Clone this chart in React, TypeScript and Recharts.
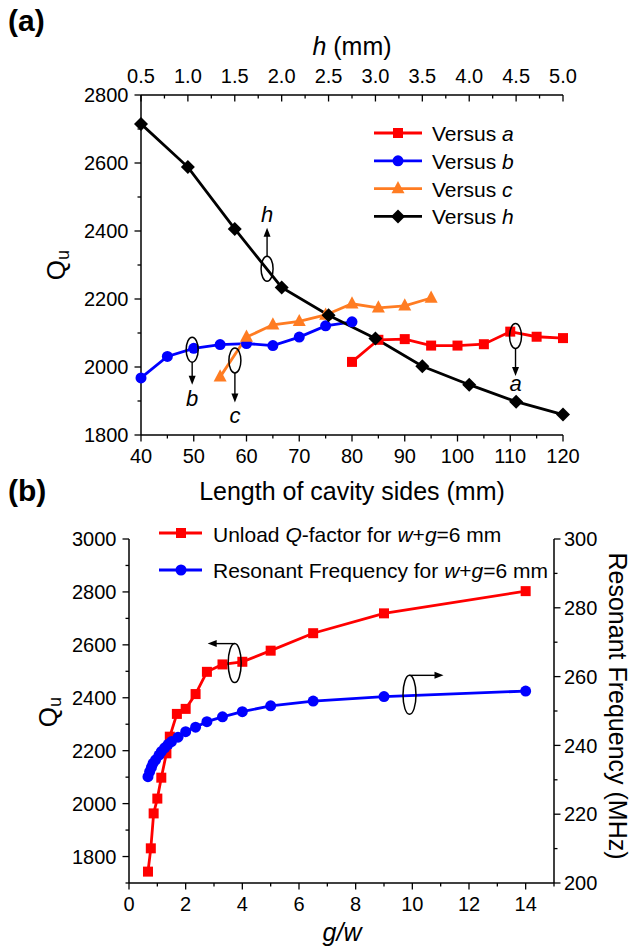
import React from "react";
import { LineChart, Line, XAxis, YAxis, ReferenceDot } from "recharts";

const FONT = "'Liberation Sans', Arial, Helvetica, sans-serif";
const RED = "#ff0000";
const BLUE = "#0000ff";
const ORANGE = "#ff7c22";
const BLACK = "#000000";

// ---- panel (a): Q_u versus cavity side length / height h ----
const lenA = [80, 85, 90, 95, 100, 105, 110, 115, 120];
const qVsA = [2015, 2080, 2082, 2063, 2063, 2067, 2104, 2089, 2085];
const lenB = [40, 45, 50, 55, 60, 65, 70, 75, 80];
const qVsB = [1968, 2031, 2055, 2066, 2069, 2063, 2088, 2121, 2133];
const lenC = [55, 60, 65, 70, 75, 80, 85, 90, 95];
const qVsC = [1971, 2088, 2124, 2134, 2153, 2186, 2174, 2180, 2203];
const hMm = [0.5, 1.0, 1.5, 2.0, 2.5, 3.0, 3.5, 4.0, 4.5, 5.0];
const qVsH = [2715, 2588, 2406, 2234, 2152, 2084, 2002, 1948, 1898, 1860];

const lenTicks = [40, 45, 50, 55, 60, 65, 70, 75, 80, 85, 90, 95, 100, 105, 110, 115, 120];
const hTicks = [0.5, 0.75, 1.0, 1.25, 1.5, 1.75, 2.0, 2.25, 2.5, 2.75, 3.0, 3.25, 3.5, 3.75, 4.0, 4.25, 4.5, 4.75, 5.0];
const qTicksA = [1800, 1900, 2000, 2100, 2200, 2300, 2400, 2500, 2600, 2700, 2800];

const legendA = [
  { name: "a", color: RED, marker: "square" },
  { name: "b", color: BLUE, marker: "circle" },
  { name: "c", color: ORANGE, marker: "triangle" },
  { name: "h", color: BLACK, marker: "diamond" },
];

// annotation ellipses of (a), in data units (length axis / Q axis)
const notesA = [
  { label: "h", x: 63.9, y: 2289, dir: -1, tip: 41, text: 47 },
  { label: "b", x: 49.7, y: 2051, dir: 1, tip: 35, text: 56 },
  { label: "c", x: 57.8, y: 2019, dir: 1, tip: 42, text: 62 },
  { label: "a", x: 111.0, y: 2091, dir: 1, tip: 40, text: 55 },
];

// ---- panel (b): Q_u and resonant frequency versus g/w ----
const gwQ = [0.67, 0.77, 0.87, 1.0, 1.14, 1.32, 1.44, 1.69, 2.0, 2.35, 2.75, 3.3, 4.0, 5.0, 6.5, 9.0, 14.0];
const qVsGw = [1743, 1831, 1963, 2019, 2098, 2190, 2253, 2339, 2358, 2414, 2498, 2526, 2536, 2578, 2644, 2719, 2803];
const gwF = [0.67, 0.73, 0.79, 0.85, 0.94, 1.06, 1.14, 1.26, 1.38, 1.5, 1.73, 2.0, 2.35, 2.75, 3.3, 4.0, 5.0, 6.5, 9.0, 14.0];
const fVsGw = [230.9, 232.4, 233.6, 234.8, 235.8, 237.2, 238.2, 239.3, 240.3, 241.1, 242.4, 244.0, 245.3, 246.9, 248.3, 249.8, 251.5, 252.9, 254.2, 255.8];

const gwTicks = [0, 1, 2, 3, 4, 5, 6, 7, 8, 9, 10, 11, 12, 13, 14, 15];
const qTicksB = [1700, 1800, 1900, 2000, 2100, 2200, 2300, 2400, 2500, 2600, 2700, 2800, 2900, 3000];
const fTicks = [200, 210, 220, 230, 240, 250, 260, 270, 280, 290, 300];

const zip = (xs: number[], ys: number[]) => xs.map((x, i) => ({ x, y: ys[i] }));

const axisLine = { stroke: "#000", strokeWidth: 1.5 };

// custom ticks: major ticks get a label, minor ones only a short mark
const makeTick =
  (side: "left" | "right" | "top" | "bottom", isMajor: (v: number) => boolean, fmt: (v: number) => string) =>
  (props: any) => {
    const { x, y, payload } = props;
    const v = payload.value;
    const major = isMajor(v);
    const len = major ? 6.5 : 3.5;
    const t = { fontSize: 20, fontFamily: FONT, fill: "#000" };
    if (side === "left")
      return (
        <g>
          <line x1={x} y1={y} x2={x - len} y2={y} stroke="#000" strokeWidth={1.3} />
          {major && <text x={x - 12.5} y={y} dy="0.36em" textAnchor="end" {...t}>{fmt(v)}</text>}
        </g>
      );
    if (side === "right")
      return (
        <g>
          <line x1={x} y1={y} x2={x + len} y2={y} stroke="#000" strokeWidth={1.3} />
          {major && <text x={x + 10} y={y} dy="0.36em" textAnchor="start" {...t}>{fmt(v)}</text>}
        </g>
      );
    if (side === "top")
      return (
        <g>
          <line x1={x} y1={y} x2={x} y2={y + len} stroke="#000" strokeWidth={1.3} />
          {major && <text x={x} y={y - 12} textAnchor="middle" {...t}>{fmt(v)}</text>}
        </g>
      );
    return (
      <g>
        <line x1={x} y1={y} x2={x} y2={y + len} stroke="#000" strokeWidth={1.3} />
        {major && <text x={x} y={y + 28} textAnchor="middle" {...t}>{fmt(v)}</text>}
      </g>
    );
  };

const int = (v: number) => String(v);

// markers
function Marker({ kind, cx, cy, color, size }: any) {
  if (cx == null || cy == null) return <g />;
  if (kind === "square")
    return <rect x={cx - size / 2} y={cy - size / 2} width={size} height={size} fill={color} />;
  if (kind === "circle") return <circle cx={cx} cy={cy} r={size / 2} fill={color} />;
  if (kind === "triangle")
    return (
      <polygon
        points={`${cx},${cy - size * 0.58} ${cx - size / 2},${cy + size * 0.36} ${cx + size / 2},${cy + size * 0.36}`}
        fill={color}
      />
    );
  return (
    <polygon
      points={`${cx},${cy - size / 2} ${cx + size / 2},${cy} ${cx},${cy + size / 2} ${cx - size / 2},${cy}`}
      fill={color}
    />
  );
}

const dotOf = (kind: string, color: string, size: number) => (p: any) =>
  <Marker key={`${kind}-${p.index}`} kind={kind} cx={p.cx} cy={p.cy} color={color} size={size} />;

// ellipse with a vertical arrow and an italic letter
function VNote({ cx, cy, dir, tip, text, label }: any) {
  const ry = 12.5;
  const start = cy + dir * ry;
  const tipY = cy + dir * tip;
  return (
    <g>
      <ellipse cx={cx} cy={cy} rx={6} ry={ry} fill="none" stroke="#000" strokeWidth={1.5} />
      <line x1={cx} y1={start} x2={cx} y2={tipY - dir * 6} stroke="#000" strokeWidth={1.4} />
      <polygon points={`${cx - 3.5},${tipY - dir * 9} ${cx + 3.5},${tipY - dir * 9} ${cx},${tipY}`} fill="#000" />
      <text x={cx} y={cy + dir * text + (dir < 0 ? 0 : 0)} textAnchor="middle" fontSize={22} fontStyle="italic" fontFamily={FONT}>
        {label}
      </text>
    </g>
  );
}

// ellipse with a horizontal arrow leaving from its top
function HNote({ cx, cy, dx }: any) {
  const ry = 19.5;
  const top = cy - ry;
  const tipX = cx + dx;
  const s = Math.sign(dx);
  return (
    <g>
      <ellipse cx={cx} cy={cy} rx={6.5} ry={ry} fill="none" stroke="#000" strokeWidth={1.5} />
      <line x1={cx} y1={top} x2={tipX - s * 6} y2={top} stroke="#000" strokeWidth={1.4} />
      <polygon points={`${tipX - s * 9},${top - 3.5} ${tipX - s * 9},${top + 3.5} ${tipX},${top}`} fill="#000" />
    </g>
  );
}

export default function App() {
  return (
    <div style={{ position: "absolute", left: 0, top: 0, width: 633, height: 948, background: "#fff" }}>
      <div style={{ position: "absolute", left: 0, top: 0 }}>
        <LineChart width={633} height={500} margin={{ top: 65, right: 70, bottom: 35, left: 81 }}>
          <XAxis
            xAxisId="len"
            dataKey="x"
            type="number"
            orientation="bottom"
            domain={[40, 120]}
            ticks={lenTicks}
            interval={0}
            tickSize={0}
            tickMargin={0}
            height={30}
            axisLine={axisLine}
            tick={makeTick("bottom", (v) => v % 10 === 0, int)}
          />
          <XAxis
            xAxisId="h"
            dataKey="x"
            type="number"
            orientation="top"
            domain={[0.5, 5]}
            ticks={hTicks}
            interval={0}
            tickSize={0}
            tickMargin={0}
            height={30}
            axisLine={axisLine}
            tick={makeTick("top", (v) => Math.abs(v * 2 - Math.round(v * 2)) < 1e-6, (v) => v.toFixed(1))}
          />
          <YAxis
            yAxisId="q"
            type="number"
            domain={[1800, 2800]}
            ticks={qTicksA}
            interval={0}
            tickSize={0}
            tickMargin={0}
            width={60}
            axisLine={axisLine}
            tick={makeTick("left", (v) => v % 200 === 0, int)}
          />
          <Line xAxisId="len" yAxisId="q" data={zip(lenA, qVsA)} dataKey="y" type="linear" stroke={RED} strokeWidth={2.8} dot={dotOf("square", RED, 10)} isAnimationActive={false} />
          <Line xAxisId="len" yAxisId="q" data={zip(lenB, qVsB)} dataKey="y" type="linear" stroke={BLUE} strokeWidth={2.8} dot={dotOf("circle", BLUE, 11)} isAnimationActive={false} />
          <Line xAxisId="len" yAxisId="q" data={zip(lenC, qVsC)} dataKey="y" type="linear" stroke={ORANGE} strokeWidth={2.8} dot={dotOf("triangle", ORANGE, 13)} isAnimationActive={false} />
          <Line xAxisId="h" yAxisId="q" data={zip(hMm, qVsH)} dataKey="y" type="linear" stroke={BLACK} strokeWidth={2.8} dot={dotOf("diamond", BLACK, 14)} isAnimationActive={false} />
          {notesA.map((n) => (
            <ReferenceDot
              key={n.label}
              xAxisId="len"
              yAxisId="q"
              x={n.x}
              y={n.y}
              r={1}
              ifOverflow="visible"
              shape={(p: any) => <VNote cx={p.cx} cy={p.cy} dir={n.dir} tip={n.tip} text={n.text} label={n.label} />}
            />
          ))}
        </LineChart>
      </div>

      <div style={{ position: "absolute", left: 0, top: 500 }}>
        <LineChart width={633} height={448} margin={{ top: 39, right: 29, bottom: 35, left: 69 }}>
          <XAxis
            xAxisId="gw"
            dataKey="x"
            type="number"
            domain={[0, 15]}
            ticks={gwTicks}
            interval={0}
            tickSize={0}
            tickMargin={0}
            height={30}
            axisLine={axisLine}
            tick={makeTick("bottom", (v) => v % 2 === 0, int)}
          />
          <YAxis
            yAxisId="q"
            type="number"
            domain={[1700, 3000]}
            ticks={qTicksB}
            interval={0}
            tickSize={0}
            tickMargin={0}
            width={60}
            axisLine={axisLine}
            tick={makeTick("left", (v) => v % 200 === 0, int)}
          />
          <YAxis
            yAxisId="f"
            orientation="right"
            type="number"
            domain={[200, 300]}
            ticks={fTicks}
            interval={0}
            tickSize={0}
            tickMargin={0}
            width={50}
            axisLine={axisLine}
            tick={makeTick("right", (v) => v % 20 === 0, int)}
          />
          <Line xAxisId="gw" yAxisId="q" data={zip(gwQ, qVsGw)} dataKey="y" type="linear" stroke={RED} strokeWidth={2.8} dot={dotOf("square", RED, 10)} isAnimationActive={false} />
          <Line xAxisId="gw" yAxisId="f" data={zip(gwF, fVsGw)} dataKey="y" type="linear" stroke={BLUE} strokeWidth={2.8} dot={dotOf("circle", BLUE, 11)} isAnimationActive={false} />
          <ReferenceDot xAxisId="gw" yAxisId="q" x={3.73} y={2531} r={1} ifOverflow="visible" shape={(p: any) => <HNote cx={p.cx} cy={p.cy} dx={-27} />} />
          <ReferenceDot xAxisId="gw" yAxisId="f" x={9.9} y={254.7} r={1} ifOverflow="visible" shape={(p: any) => <HNote cx={p.cx} cy={p.cy} dx={34} />} />
        </LineChart>
      </div>

      {/* titles, panel letters and legends */}
      <svg width={633} height={948} style={{ position: "absolute", left: 0, top: 0, pointerEvents: "none" }} fontFamily={FONT}>
        <text x={8} y={31} fontSize={30} fontWeight="bold">(a)</text>
        <text x={8} y={501} fontSize={30} fontWeight="bold">(b)</text>

        <text x={352} y={55} textAnchor="middle" fontSize={25}>
          <tspan fontStyle="italic">h</tspan>
          {" (mm)"}
        </text>
        <text x={352} y={500} textAnchor="middle" fontSize={25}>Length of cavity sides (mm)</text>
        <text x={342} y={941} textAnchor="middle" fontSize={25} fontStyle="italic">g/w</text>

        <text x={65} y={265} transform="rotate(-90 65 265)" textAnchor="middle" fontSize={26}>
          Q<tspan fontSize={18} dy={4}>u</tspan>
        </text>
        <text x={57} y={712} transform="rotate(-90 57 712)" textAnchor="middle" fontSize={26}>
          Q<tspan fontSize={18} dy={4}>u</tspan>
        </text>
        <text x={609} y={706} transform="rotate(90 609 706)" textAnchor="middle" fontSize={25}>
          Resonant Frequency (MHz)
        </text>

        {legendA.map((l, i) => {
          const y = 133 + i * 27.8;
          return (
            <g key={l.name}>
              <line x1={374} y1={y} x2={422} y2={y} stroke={l.color} strokeWidth={2.8} />
              <Marker kind={l.marker} cx={398} cy={y} color={l.color} size={l.marker === "square" ? 10 : l.marker === "circle" ? 11 : l.marker === "triangle" ? 13 : 14} />
              <text x={432} y={y + 8} fontSize={21}>
                {"Versus "}
                <tspan fontStyle="italic">{l.name}</tspan>
              </text>
            </g>
          );
        })}

        <line x1={159} y1={533} x2={202} y2={533} stroke={RED} strokeWidth={2.8} />
        <Marker kind="square" cx={181} cy={533} color={RED} size={10} />
        <text x={213} y={542} fontSize={21}>
          {"Unload "}
          <tspan fontStyle="italic">Q</tspan>
          {"-factor for "}
          <tspan fontStyle="italic">w</tspan>
          {"+"}
          <tspan fontStyle="italic">g</tspan>
          {"=6 mm"}
        </text>
        <line x1={159} y1={570} x2={202} y2={570} stroke={BLUE} strokeWidth={2.8} />
        <Marker kind="circle" cx={181} cy={570} color={BLUE} size={11} />
        <text x={213} y={578} fontSize={21}>
          {"Resonant Frequency for "}
          <tspan fontStyle="italic">w</tspan>
          {"+"}
          <tspan fontStyle="italic">g</tspan>
          {"=6 mm"}
        </text>
      </svg>
    </div>
  );
}
